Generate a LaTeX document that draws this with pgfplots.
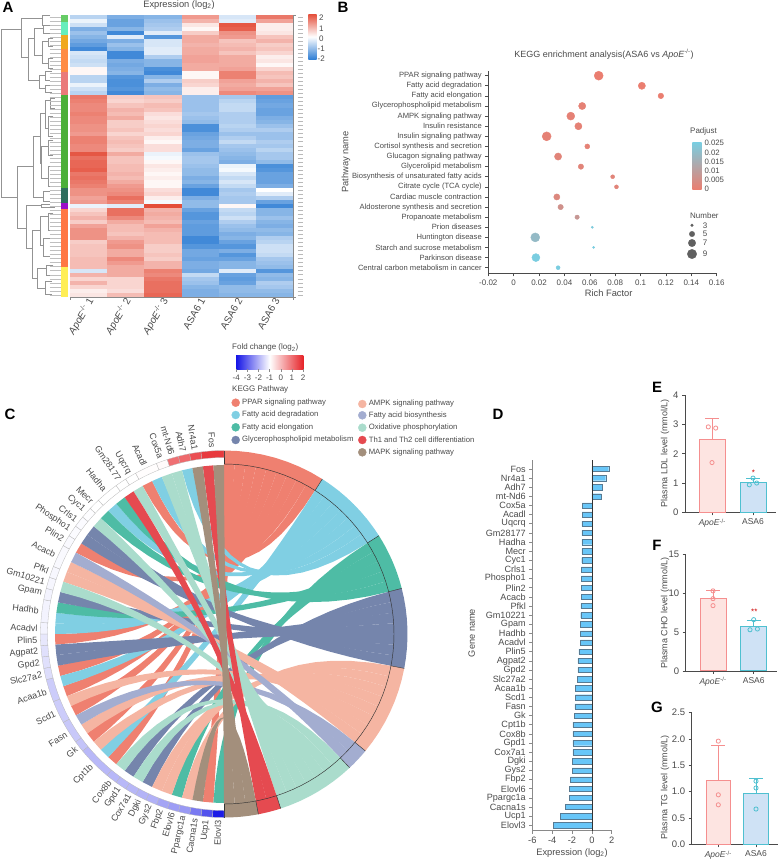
\documentclass[border=0pt]{standalone}
\usepackage{pgfplots}
\usepackage{pgfplotstable}
\usepackage{fontspec}
\setmainfont{Liberation Sans}
\pgfplotsset{compat=1.18}
\newcommand\fs[1]{\fontsize{#1}{#1}\selectfont}
\definecolor{tg}{HTML}{4A4A4A}
\definecolor{ax}{HTML}{8A8A8A}
\definecolor{hb}{RGB}{45,125,212}
\definecolor{hr}{RGB}{228,78,58}
\definecolor{fcb}{RGB}{20,20,230}
\definecolor{fcr}{RGB}{230,35,40}
\definecolor{cP}{RGB}{239,128,112}
\definecolor{cD}{RGB}{128,207,227}
\definecolor{cE}{RGB}{78,188,165}
\definecolor{cG}{RGB}{117,133,172}
\definecolor{cA}{RGB}{245,181,162}
\definecolor{cB}{RGB}{163,173,208}
\definecolor{cO}{RGB}{170,220,204}
\definecolor{cT}{RGB}{229,74,80}
\definecolor{cM}{RGB}{163,143,124}
\definecolor{padA}{RGB}{234,126,112}
\definecolor{padB}{RGB}{122,205,224}
\definecolor{sal}{RGB}{245,143,143}
\definecolor{salf}{RGB}{253,228,225}
\definecolor{cya}{RGB}{79,192,208}
\definecolor{cyaf}{RGB}{207,226,245}
\definecolor{barD}{RGB}{104,198,248}
\definecolor{barE}{RGB}{88,122,146}
\pgfplotsset{
  colormap={heat}{color=(hb) color=(white) color=(hr)},
  colormap={pad}{color=(padA) color=(padB)},
  panel/.style={scale only axis,anchor=south west,axis x line*=bottom,axis y line*=left,
    axis line style={line width=.9pt,color=tg,-},tick style={line width=.9pt,color=tg},
    tick align=outside,major tick length=3pt,clip=false,
    xticklabel style={font=\fs{8.5},text=tg},yticklabel style={font=\fs{9.5},text=tg},
    yticklabel style={/pgf/number format/assume math mode=true}},
  dendro/.style={color=gray!85,line width=.5pt,x filter/.expression={x/3},y filter/.expression={y/3}},
  errS/.style={error bars/.cd,y dir=plus,y explicit,error bar style={line width=1pt,color=sal},error mark options={rotate=90,mark size=7pt,line width=1pt,color=sal}},
  errC/.style={error bars/.cd,y dir=plus,y explicit,error bar style={line width=1pt,color=cya},error mark options={rotate=90,mark size=7pt,line width=1pt,color=cya}},
}
\pgfdeclareplotmark{cell}{\pgfpathrectangle{\pgfpoint{-18.75pt}{-2.15pt}}{\pgfpoint{37.5pt}{4.3pt}}\pgfusepathqfill}
\pgfdeclareplotmark{leaf}{\pgfpathmoveto{\pgfpoint{-5.5pt}{0pt}}\pgfpathlineto{\pgfpoint{5.5pt}{0pt}}\pgfusepathqstroke}
\pgfdeclareplotmark{rowl}{\pgfpathmoveto{\pgfpoint{-2.5pt}{0pt}}\pgfpathlineto{\pgfpoint{2.5pt}{0pt}}\pgfusepathqstroke}
% heat map, log2 expression, rows top to bottom, columns ApoE 1-3, ASA6 1-3
\pgfplotstableread{
c1 c2 c3 c4 c5 c6
-0.7 -1.3 -1.2 1.2 -0.4 1.6
-0.2 -1.5 -1.0 0.9 -0.3 1.1
-0.5 -1.5 -0.9 0.3 2.0 0.2
-1.3 -1.2 -0.8 0.1 1.9 0.2
-1.0 -1.9 -0.3 0.6 1.3 0.3
-1.2 -0.3 -1.7 1.0 1.2 0.7
-1.4 -1.3 -0.4 1.0 0.7 0.9
-1.6 -1.0 -0.4 0.9 0.8 0.6
-1.9 -1.2 -0.3 1.0 0.9 0.7
-0.4 -1.9 -0.3 1.0 0.7 0.5
-0.5 -1.9 -0.8 1.1 1.0 0.2
-0.6 -1.3 -1.2 1.1 1.0 0.3
-0.5 -1.4 -1.2 1.0 1.0 0.1
0.1 -1.3 -1.8 1.0 1.1 0.5
0.1 -1.2 -1.9 0.1 1.5 0.8
-0.7 -1.7 -1.2 0.1 1.5 0.7
-0.7 -1.8 -0.8 0.6 1.1 0.9
-0.2 -1.8 -1.3 0.5 1.0 0.7
-0.5 -1.7 -1.1 0.2 1.1 1.1
-0.7 -1.9 -1.2 0.2 1.4 1.3
1.6 0.6 0.7 -1.0 -0.9 -1.6
1.5 0.5 0.6 -1.0 -0.7 -1.5
1.4 0.7 0.8 -1.0 -0.6 -1.4
1.4 0.9 0.7 -1.0 -0.6 -1.5
1.5 0.8 0.4 -0.9 -0.8 -1.5
1.4 1.0 0.3 -1.0 -0.8 -1.3
1.4 0.6 0.4 -1.1 -0.8 -1.2
1.3 0.6 0.5 -1.8 -0.7 -1.0
1.3 0.7 0.4 -1.8 -0.8 -0.8
1.2 0.5 0.5 -1.5 -1.0 -1.0
1.5 0.7 0.2 -1.4 -0.8 -1.0
1.5 0.8 0.1 -1.3 -0.6 -0.8
1.4 0.7 0.4 -1.3 -0.9 -0.9
1.4 0.6 0.4 -1.5 -1.0 -0.7
2.0 1.0 -0.2 -1.0 -1.1 -0.9
1.7 0.7 -0.1 -0.9 -1.2 -0.9
1.8 0.7 0.1 -0.9 -1.3 -1.1
1.8 0.8 0.3 -1.0 -0.2 -1.8
1.9 0.8 0.2 -1.1 -0.1 -1.7
1.6 0.9 0.1 -1.1 -0.4 -1.5
1.7 0.8 0.2 -1.3 -0.6 -1.5
1.6 1.0 0.1 -1.2 -0.4 -1.5
1.5 1.2 0.1 -1.5 -0.6 -1.3
1.3 1.3 0.4 -1.9 -0.9 0.0
1.3 1.4 0.5 -1.9 -0.8 -0.3
1.1 1.7 0.2 -1.3 -0.9 -0.8
1.2 1.5 -0.1 -1.1 -0.9 -1.5
-0.2 -0.3 2.1 -1.1 0.1 -1.9
0.5 1.7 0.9 -1.5 -0.6 -1.2
0.7 1.7 1.0 -1.7 -0.7 -1.2
0.9 1.4 0.9 -1.7 -0.5 -1.0
0.6 1.0 0.8 -1.5 -0.8 -1.2
1.1 0.8 1.1 -1.6 -1.0 -1.3
1.3 0.8 0.9 -1.6 -1.1 -1.1
1.3 0.7 0.8 -1.6 -1.3 -1.2
1.3 0.9 0.8 -1.9 -1.2 -0.8
0.6 1.2 0.8 -1.9 -1.5 -0.7
0.7 1.3 0.6 -1.7 -1.7 -0.5
0.7 1.0 0.6 -1.4 -1.3 -0.5
0.7 1.0 0.7 -1.4 -1.7 -0.6
0.8 1.4 0.6 -1.5 -1.5 -0.9
0.8 1.2 0.9 -1.3 -1.2 -1.0
0.8 1.0 0.9 -1.3 -1.2 -1.1
-0.4 1.0 1.5 -1.4 -0.3 -1.7
0.9 1.0 1.4 -0.6 -1.5 -1.1
0.5 0.5 1.6 -0.9 -1.6 -1.2
0.9 0.5 1.7 -1.0 -1.5 -0.8
0.5 0.5 1.7 -1.2 -1.1 -0.9
0.2 0.4 1.7 -1.3 -1.1 -1.1
0.3 0.8 1.8 -1.3 -1.2 -1.2
}\heat
\pgfplotstableread{
name v
Elovl3 -3.9
Ucp1 -3.2
Cacna1s -2.7
Ppargc1a -2.3
Elovl6 -2.25
Fbp2 -2.15
Gys2 -2.0
Dgki -1.97
Cox7a1 -1.92
Gpd1 -1.9
Cox8b -1.9
Cpt1b -1.9
Gk -1.75
Fasn -1.7
Scd1 -1.65
Acaa1b -1.65
Slc27a2 -1.43
Gpd2 -1.4
Agpat2 -1.4
Plin5 -1.3
Acadvl -1.15
Hadhb -1.15
Gpam -1.15
Gm10221 -1.12
Pfkl -1.1
Acacb -1.08
Plin2 -1.08
Phospho1 -1.05
Crls1 -1.05
Cyc1 -1.02
Mecr -1.0
Hadha -1.0
Gm28177 -1.0
Uqcrq -1.0
Acadl -0.97
Cox5a -0.95
mt-Nd6 0.95
Adh7 1.05
Nr4a1 1.4
Fos 1.7
}\Dtab
% chord macros: all in reference pixels, centre (224,634)
\newcommand\addpt[2]{\pgfmathsetmacro\px{224+#1*sin(#2)}\pgfmathsetmacro\py{634-#1*cos(#2)}\xdef\pts{\pts(\px,\py)}}
\newcommand\bezpt[3]{\pgfmathsetmacro\px{224+(1-#3)^2*170*sin(#1)+(#3)^2*169*sin(#2)}\pgfmathsetmacro\py{634-(1-#3)^2*170*cos(#1)-(#3)^2*169*cos(#2)}\xdef\pts{\pts(\px,\py)}}
\def\tlist{0,.0625,.125,.1875,.25,.3125,.375,.4375,.5,.5625,.625,.6875,.75,.8125,.875,.9375,1}
\newcommand\ribbon[3]{%
 \pgfmathsetmacro\aA{#2}\pgfmathsetmacro\aB{#2+3.6}\pgfmathsetmacro\gB{180+3.6*#3}\pgfmathsetmacro\gA{\gB+3.6}%
 \gdef\pts{}%
 \foreach \t in \tlist {\bezpt{\aA}{\gA}{\t}}%
 \foreach \t in \tlist {\pgfmathsetmacro\tt{1-\t}\bezpt{\aB}{\gB}{\tt}}%
 \edef\tmp{\noexpand\addplot[fill=#1,draw=none] coordinates {\pts} -- cycle;}\tmp}
\newcommand\sector[5]{\gdef\pts{}%
 \foreach\k in {0,...,8}{\pgfmathsetmacro\th{#2+(#3-#2)*\k/8}\addpt{#5}{\th}}%
 \foreach\k in {8,...,0}{\pgfmathsetmacro\th{#2+(#3-#2)*\k/8}\addpt{#4}{\th}}%
 \edef\tmp{\noexpand\addplot[#1] coordinates {\pts} -- cycle;}\tmp}
\newcommand\radial[1]{\gdef\pts{}\addpt{170}{#1}\addpt{183.5}{#1}\edef\tmp{\noexpand\addplot[black!80,line width=.45pt] coordinates {\pts};}\tmp}
\newcount\gu
\newcommand\gene[3]{%
 \pgfmathsetmacro\tA{180+3.6*\the\gu}\global\advance\gu by #2\relax\pgfmathsetmacro\tB{180+3.6*\the\gu}%
 \ifdim#3pt<-1pt \pgfmathsetmacro\pct{(-1-#3)/3*100}\edef\cc{fcb!\pct!white}\else\pgfmathsetmacro\pct{(#3+1)/3*100}\edef\cc{fcr!\pct!white}\fi
 \sector{fill=\cc,draw=gray!55,line width=.3pt}{\tA}{\tB}{176.5}{183.5}%
 \pgfmathsetmacro\tM{(\tA+\tB)/2}\pgfmathsetmacro\rot{270-\tM}\pgfmathsetmacro\lx{224+186.5*sin(\tM)}\pgfmathsetmacro\ly{634-186.5*cos(\tM)}%
 \edef\tmp{\noexpand\node[anchor=east,rotate=\rot,font=\noexpand\fs{9},text=tg,inner sep=0pt] at (axis cs:\lx,\ly) {#1};}\tmp}
\newcommand\bx[5]{\addplot[fill={rgb,255:#1},draw=none] coordinates {(#2,#3)(#4,#3)(#4,#5)(#2,#5)} -- cycle;}
\newcommand\U[5]{\addplot[dendro] coordinates {(#3,#2)(#1,#2)(#1,#4)(#5,#4)};}
\newcommand\lgd[4]{\addplot[only marks,mark=*,mark size=4pt,color=#1] coordinates {(#2,#3)};\node[anchor=west,font=\fs{7.7},text=tg,inner sep=0pt] at (#2+6.3,#3) {#4};}
\newcommand\txt[4][]{\node[font=\fs{#2},text=tg,inner sep=0pt,#1] at (#3) {#4};}
\newcommand\apo{\textit{ApoE}\textsuperscript{-/-}}
\begin{document}
\begin{tikzpicture}[x=1pt,y=1pt]
\path[use as bounding box] (0,0) rectangle (782,863);
%% ---------- canvas axis, one data unit = one reference pixel
\begin{axis}[at={(0pt,0pt)},anchor=south west,scale only axis,width=782,height=863,xmin=0,xmax=782,ymin=0,ymax=863,y dir=reverse,hide axis,clip=false]
% panel letters
\node[font=\bfseries\fs{15},text=black] at (8,7) {A};
\node[font=\bfseries\fs{15},text=black] at (343,7) {B};
\node[font=\bfseries\fs{15},text=black] at (10,414) {C};
\node[font=\bfseries\fs{15},text=black] at (498,414) {D};
\node[font=\bfseries\fs{15},text=black] at (657,387) {E};
\node[font=\bfseries\fs{15},text=black] at (657,545) {F};
\node[font=\bfseries\fs{15},text=black] at (657,707) {G};
%% A: side colours
\bx{red,102;green,204;blue,102}{60.7}{15}{68}{22.3}
\bx{red,102;green,238;blue,187}{60.7}{22.3}{68}{35}
\bx{red,240;green,168;blue,32}{60.7}{35}{68}{49.3}
\bx{red,255;green,140;blue,68}{60.7}{49.3}{68}{71.7}
\bx{red,234;green,122;blue,122}{60.7}{71.7}{68}{95}
\bx{red,76;green,175;blue,58}{60.7}{95}{68}{188.3}
\bx{red,46;green,110;blue,94}{60.7}{188.3}{68}{203.3}
\bx{red,154;green,16;blue,200}{60.7}{203.3}{68}{209.3}
\bx{red,255;green,119;blue,68}{60.7}{209.3}{68}{267.3}
\bx{red,255;green,238;blue,85}{60.7}{267.3}{68}{297}
%% A: dendrogram
\U{3}{88}{65}{593}{52}
\U{65}{55}{128}{172}{85}
\U{128}{45}{150}{75}{145}
\U{85}{115}{103}{240}{118}
\U{103}{85}{130}{165}{127}
\U{130}{75}{150}{100}{150}
\U{127}{125}{145}{190}{145}
\U{118}{225}{135}{265}{135}
\U{135}{215}{155}{240}{150}
\U{135}{255}{150}{278}{155}
\U{145}{115}{160}{140}{160}
\U{145}{175}{160}{205}{160}
\U{52}{500}{100}{685}{80}
\U{100}{410}{122}{592}{130}
\U{122}{340}{135}{490}{125}
\U{135}{300}{150}{385}{145}
\U{125}{440}{145}{535}{145}
\U{145}{420}{160}{465}{160}
\U{145}{500}{160}{560}{160}
\U{145}{350}{160}{410}{160}
\U{150}{295}{165}{325}{165}
\U{130}{575}{150}{605}{150}
\U{80}{617}{125}{745}{97}
\U{125}{612}{150}{622}{165}
\U{97}{690}{120}{835}{113}
\U{120}{650}{145}{735}{130}
\U{145}{640}{160}{690}{160}
\U{130}{715}{150}{770}{150}
\U{113}{805}{140}{865}{135}
\U{140}{795}{160}{825}{160}
\U{135}{845}{155}{882}{155}
\addplot[only marks,mark=leaf,color=gray!50,line width=.8pt] table[x expr=55.2,y expr={17+4.03*\coordindex},y index=0] {\heat};
\addplot[only marks,mark=rowl,color=gray!55,line width=.9pt] table[x expr=300,y expr={17+4.03*\coordindex},y index=0] {\heat};
\addplot[ax,line width=.6pt] coordinates {(70,297.5)(70,300)};
\addplot[ax,line width=.6pt] coordinates {(293.3,297.5)(293.3,300)};
%% A: title and colour bar
\txt{9.3}{179,5}{Expression (log\textsubscript{2})}
\shade[bottom color=hb,top color=hr,middle color=white] (axis cs:308.3,14) rectangle (axis cs:316.7,59.5);
\txt[anchor=west]{8}{319,17.3}{2}
\txt[anchor=west]{8}{319,28.3}{1}
\txt[anchor=west]{8}{319,38.3}{0}
\txt[anchor=west]{8}{317.5,48.3}{-1}
\txt[anchor=west]{8}{317.5,58.3}{-2}
%% B: texts and legends
\txt{9}{604,54}{KEGG enrichment analysis(ASA6 vs \apo)}
\txt{9.3}{608.7,292.7}{Rich Factor}
\txt[rotate=90]{9.3}{346,162}{Pathway name}
\txt[anchor=west]{8}{690,131}{Padjust}
\shade[bottom color=padA,top color=padB] (axis cs:692.3,142.7) rectangle (axis cs:701.7,189.3);
\txt[anchor=west]{7.8}{704.3,143.3}{0.025}
\txt[anchor=west]{7.8}{704.3,152.5}{0.02}
\txt[anchor=west]{7.8}{704.3,161.6}{0.015}
\txt[anchor=west]{7.8}{704.3,170.7}{0.01}
\txt[anchor=west]{7.8}{704.3,179.9}{0.005}
\txt[anchor=west]{7.8}{704.3,189}{0}
\txt[anchor=west]{8}{690,215.7}{Number}
\addplot[only marks,mark=*,mark size=1.3pt,color=gray!75!black] coordinates {(692,225.3)};
\addplot[only marks,mark=*,mark size=2.7pt,color=gray!75!black] coordinates {(692,234)};
\addplot[only marks,mark=*,mark size=3.7pt,color=gray!75!black] coordinates {(692,243)};
\addplot[only marks,mark=*,mark size=4.7pt,color=gray!75!black] coordinates {(692,254)};
\txt[anchor=west]{8}{702.7,225.3}{3}
\txt[anchor=west]{8}{702.7,234}{5}
\txt[anchor=west]{8}{702.7,243}{7}
\txt[anchor=west]{8}{702.7,254}{9}
%% C: legends
\txt[anchor=west]{8}{232,347.7}{Fold change (log\textsubscript{2})}
\shade[left color=fcb,right color=fcr,middle color=white] (axis cs:236,355.7) rectangle (axis cs:303.3,369);
\addplot[ax,line width=.5pt] coordinates {(236.3,369)(236.3,371.5)};
\addplot[ax,line width=.5pt] coordinates {(247.4,369)(247.4,371.5)};
\addplot[ax,line width=.5pt] coordinates {(258.5,369)(258.5,371.5)};
\addplot[ax,line width=.5pt] coordinates {(269.6,369)(269.6,371.5)};
\addplot[ax,line width=.5pt] coordinates {(280.8,369)(280.8,371.5)};
\addplot[ax,line width=.5pt] coordinates {(291.9,369)(291.9,371.5)};
\addplot[ax,line width=.5pt] coordinates {(303,369)(303,371.5)};
\txt{8}{236.3,377.7}{-4}
\txt{8}{247.4,377.7}{-3}
\txt{8}{258.5,377.7}{-2}
\txt{8}{269.6,377.7}{-1}
\txt{8}{280.8,377.7}{0}
\txt{8}{291.9,377.7}{1}
\txt{8}{303,377.7}{2}
\txt[anchor=west]{8}{232,389}{KEGG Pathway}
\lgd{cP}{235.7}{402.7}{PPAR signaling pathway}
\lgd{cD}{235.7}{415}{Fatty acid degradation}
\lgd{cE}{235.7}{427.3}{Fatty acid elongation}
\lgd{cG}{235.7}{440}{Glycerophospholipid metabolism}
\lgd{cA}{362.3}{404}{AMPK signaling pathway}
\lgd{cB}{362.3}{415.3}{Fatty acid biosynthesis}
\lgd{cO}{362.3}{427.7}{Oxidative phosphorylation}
\lgd{cT}{362.3}{440}{Th1 and Th2 cell differentiation}
\lgd{cM}{362.3}{452.3}{MAPK signaling pathway}
%% C: pathway sectors
\sector{fill=cP,draw=none}{0}{32.4}{169.5}{183.5}
\sector{fill=cD,draw=none}{32.4}{57.6}{169.5}{183.5}
\sector{fill=cE,draw=none}{57.6}{75.6}{169.5}{183.5}
\sector{fill=cG,draw=none}{75.6}{100.8}{169.5}{183.5}
\sector{fill=cA,draw=none}{100.8}{129.6}{169.5}{183.5}
\sector{fill=cB,draw=none}{129.6}{136.8}{169.5}{183.5}
\sector{fill=cO,draw=none}{136.8}{162}{169.5}{183.5}
\sector{fill=cT,draw=none}{162}{169.2}{169.5}{183.5}
\sector{fill=cM,draw=none}{169.2}{180}{169.5}{183.5}
%% C: ribbons, colour / start on the pathway sector / gene slot
\ribbon{cP}{0}{1}\ribbon{cP}{3.6}{11}\ribbon{cP}{7.2}{14}\ribbon{cP}{10.8}{17}\ribbon{cP}{14.4}{19}\ribbon{cP}{18}{21}\ribbon{cP}{21.6}{24}\ribbon{cP}{25.2}{33}\ribbon{cP}{28.8}{42}
\ribbon{cD}{32.4}{12}\ribbon{cD}{36}{20}\ribbon{cD}{39.6}{25}\ribbon{cD}{43.2}{26}\ribbon{cD}{46.8}{38}\ribbon{cD}{50.4}{43}\ribbon{cD}{54}{46}
\ribbon{cE}{57.6}{0}\ribbon{cE}{61.2}{4}\ribbon{cE}{64.8}{27}\ribbon{cE}{68.4}{37}\ribbon{cE}{72}{39}
\ribbon{cG}{75.6}{7}\ribbon{cG}{79.2}{9}\ribbon{cG}{82.8}{22}\ribbon{cG}{86.4}{23}\ribbon{cG}{90}{28}\ribbon{cG}{93.6}{34}\ribbon{cG}{97.2}{35}
\ribbon{cA}{100.8}{3}\ribbon{cA}{104.4}{5}\ribbon{cA}{108}{6}\ribbon{cA}{111.6}{13}\ribbon{cA}{115.2}{15}\ribbon{cA}{118.8}{18}\ribbon{cA}{122.4}{30}\ribbon{cA}{126}{31}
\ribbon{cB}{129.6}{16}\ribbon{cB}{133.2}{32}
\ribbon{cO}{136.8}{8}\ribbon{cO}{140.4}{10}\ribbon{cO}{144}{29}\ribbon{cO}{147.6}{36}\ribbon{cO}{151.2}{41}\ribbon{cO}{154.8}{44}\ribbon{cO}{158.4}{45}
\ribbon{cT}{162}{40}\ribbon{cT}{165.6}{48}
\ribbon{cM}{169.2}{2}\ribbon{cM}{172.8}{47}\ribbon{cM}{176.4}{49}
%% C: sector lines
\gdef\pts{}\foreach\k in {0,3,...,180}{\addpt{170}{\k}}
\edef\tmp{\noexpand\addplot[black!80,line width=.45pt] coordinates {\pts};}\tmp
\radial{0}\radial{32.4}\radial{57.6}\radial{75.6}\radial{100.8}\radial{129.6}\radial{136.8}\radial{162}\radial{169.2}\radial{180}
%% C: gene ring, name / slots / log2 fold change
\gene{Elovl3}{1}{-3.9}\gene{Ucp1}{1}{-3.2}\gene{Cacna1s}{1}{-2.7}\gene{Ppargc1a}{1}{-2.3}\gene{Elovl6}{1}{-2.25}
\gene{Fbp2}{1}{-2.15}\gene{Gys2}{1}{-2.0}\gene{Dgki}{1}{-1.97}\gene{Cox7a1}{1}{-1.92}\gene{Gpd1}{1}{-1.9}
\gene{Cox8b}{1}{-1.9}\gene{Cpt1b}{3}{-1.9}\gene{Gk}{1}{-1.75}\gene{Fasn}{2}{-1.7}\gene{Scd1}{2}{-1.65}
\gene{Acaa1b}{2}{-1.65}\gene{Slc27a2}{1}{-1.43}\gene{Gpd2}{1}{-1.4}\gene{Agpat2}{1}{-1.4}\gene{Plin5}{1}{-1.3}
\gene{Acadvl}{1}{-1.15}\gene{Hadhb}{2}{-1.15}\gene{Gpam}{1}{-1.15}\gene{Gm10221}{1}{-1.12}\gene{Pfkl}{1}{-1.1}
\gene{Acacb}{2}{-1.08}\gene{Plin2}{1}{-1.08}\gene{Phospho1}{1}{-1.05}\gene{Crls1}{1}{-1.05}\gene{Cyc1}{1}{-1.02}
\gene{Mecr}{1}{-1.0}\gene{Hadha}{2}{-1.0}\gene{Gm28177}{1}{-1.0}\gene{Uqcrq}{1}{-1.0}\gene{Acadl}{2}{-0.97}
\gene{Cox5a}{1}{-0.95}\gene{mt-Nd6}{1}{0.95}\gene{Adh7}{1}{1.05}\gene{Nr4a1}{1}{1.4}\gene{Fos}{2}{1.7}
%% D, E, F, G side labels
\txt[rotate=90]{9.2}{471.7,633}{Gene name}
\txt[rotate=90]{9}{665,453}{Plasma LDL level (mmol/L)}
\txt[rotate=90]{9}{665,613}{Plasma CHO level (mmol/L)}
\txt[rotate=90]{9}{665,787}{Plasma TG level (mmol/L)}
\end{axis}
%% ---------- A heat map
\begin{axis}[at={(70pt,566pt)},anchor=south west,scale only axis,width=223.3,height=282,clip=false,
  xmin=-.5,xmax=5.5,ymin=-.5,ymax=69.5,colormap name=heat,point meta min=-2.1,point meta max=2.1,
  axis x line*=bottom,axis y line*=right,axis line style={color=ax,line width=.6pt,-},
  xtick={0,...,5},xticklabels={\apo{} 1,\apo{} 2,\apo{} 3,ASA6 1,ASA6 2,ASA6 3},
  xticklabel style={rotate=60,anchor=east,font=\fs{10},text=tg,xshift=5pt,yshift=-2pt},
  major tick length=2.5pt,tick align=outside,tick style={color=ax},
  ytick={-.5,69.5},yticklabels={},x tick style={draw=none}]
\addplot[scatter,only marks,mark=cell,scatter src=explicit,scatter/use mapped color={fill=mapped color,draw=none}] table[x expr=0,y expr={69-\coordindex},meta=c1] {\heat};
\addplot[scatter,only marks,mark=cell,scatter src=explicit,scatter/use mapped color={fill=mapped color,draw=none}] table[x expr=1,y expr={69-\coordindex},meta=c2] {\heat};
\addplot[scatter,only marks,mark=cell,scatter src=explicit,scatter/use mapped color={fill=mapped color,draw=none}] table[x expr=2,y expr={69-\coordindex},meta=c3] {\heat};
\addplot[scatter,only marks,mark=cell,scatter src=explicit,scatter/use mapped color={fill=mapped color,draw=none}] table[x expr=3,y expr={69-\coordindex},meta=c4] {\heat};
\addplot[scatter,only marks,mark=cell,scatter src=explicit,scatter/use mapped color={fill=mapped color,draw=none}] table[x expr=4,y expr={69-\coordindex},meta=c5] {\heat};
\addplot[scatter,only marks,mark=cell,scatter src=explicit,scatter/use mapped color={fill=mapped color,draw=none}] table[x expr=5,y expr={69-\coordindex},meta=c6] {\heat};
\end{axis}
%% ---------- B dot plot
\begin{axis}[at={(488.3pt,589.7pt)},anchor=south west,scale only axis,width=228.4,height=202.3,clip=false,
  xmin=-.02,xmax=.16,ymin=.446,ymax=20.465,colormap name=pad,point meta min=0,point meta max=.025,
  axis x line*=bottom,axis y line*=left,axis line style={color=tg,line width=.6pt,-},
  tick align=outside,major tick length=3pt,tick style={color=tg,line width=.6pt},scaled x ticks=false,
  xtick={-.02,0,.02,.04,.06,.08,.1,.12,.14,.16},
  xticklabels={-0.02,0,0.02,0.04,0.06,0.08,0.1,0.12,0.14,0.16},
  xticklabel style={font=\fs{8},text=tg},
  ytick={1,...,20},
  yticklabels={Central carbon metabolism in cancer,Parkinson disease,Starch and sucrose metabolism,Huntington disease,Prion diseases,Propanoate metabolism,Aldosterone synthesis and secretion,Cardiac muscle contraction,Citrate cycle (TCA cycle),Biosynthesis of unsaturated fatty acids,Glycerolipid metabolism,Glucagon signaling pathway,Cortisol synthesis and secretion,Insulin signaling pathway,Insulin resistance,AMPK signaling pathway,Glycerophospholipid metabolism,Fatty acid elongation,Fatty acid degradation,PPAR signaling pathway},
  yticklabel style={font=\fs{7.6},text=tg}]
\addplot[scatter,only marks,mark=*,scatter src=explicit,
  visualization depends on={\thisrow{r}\as\rr},
  scatter/use mapped color={draw=mapped color,fill=mapped color},
  scatter/@pre marker code/.append style={/tikz/mark size=\rr}]
 table[x=x,y=y,meta=p] {
x y r p
0.067 20 4.5 0
0.101 19 3.6 0
0.116 18 2.8 0
0.054 17 3.6 0.001
0.045 16 4.0 0.001
0.051 15 3.6 0.001
0.026 14 4.5 0.001
0.058 13 2.5 0.001
0.035 12 3.6 0.002
0.053 11 2.7 0.002
0.078 10 2.0 0.002
0.081 9 2.0 0.002
0.034 8 3.1 0.003
0.037 7 2.7 0.006
0.050 6 2.2 0.008
0.062 5 1.1 0.024
0.017 4 4.5 0.019
0.063 3 1.1 0.025
0.0175 2 4.0 0.025
0.035 1 2.0 0.025
};
\end{axis}
%% ---------- D bars
\begin{axis}[at={(532.3pt,32.3pt)},anchor=south west,scale only axis,width=79.4,height=370.7,clip=false,
  xmin=-6,xmax=2,ymin=-.59,ymax=39.98,
  axis x line*=bottom,axis y line*=left,axis line style={color=ax,line width=.7pt,-},
  tick align=outside,major tick length=3pt,tick style={color=ax,line width=.6pt},
  xtick={-6,-4,-2,0,2},xticklabels={-6,-4,-2,0,2},xticklabel style={font=\fs{9.3},text=tg},
  ytick={0,...,39},yticklabels from table={\Dtab}{name},yticklabel style={font=\fs{9.1},text=tg},
  xlabel={Expression (log\textsubscript{2})},xlabel style={font=\fs{9.3},text=tg,yshift=2pt}]
\addplot[xbar,bar width=5.3pt,bar shift=0pt,fill=barD,draw=barE,line width=.4pt] table[x=v,y expr=\coordindex] {\Dtab};
\addplot[black!80,line width=.6pt] coordinates {(0,-.59)(0,39.98)};
\end{axis}
%% ---------- E
\begin{axis}[panel,at={(685pt,350.7pt)},width=91,height=117,xmin=685,xmax=776,ymin=0,ymax=4,
  xtick={712.3,753},xticklabels={\apo,ASA6},ytick={0,1,2,3,4}]
\addplot[ybar,bar width=26pt,bar shift=0pt,fill=salf,draw=sal,line width=1pt,errS] coordinates {(712.3,2.48) +- (0,.72)};
\addplot[ybar,bar width=26pt,bar shift=0pt,fill=cyaf,draw=cya,line width=1pt,errC] coordinates {(753,1.02) +- (0,.14)};
\addplot[only marks,mark=o,mark size=2.1pt,color=sal,line width=.8pt] coordinates {(708.3,2.92)(715.7,2.88)(712,1.7)};
\addplot[only marks,mark=o,mark size=2.1pt,color=cya,line width=.8pt] coordinates {(753,1.17)(749.3,.94)(756.7,1.0)};
\node[font=\fs{8},text=red!80!black,inner sep=0pt] at (axis cs:753.3,1.36) {*};
\end{axis}
%% ---------- F
\begin{axis}[panel,at={(685.7pt,192pt)},width=91,height=116.7,xmin=685.7,xmax=776.7,ymin=0,ymax=15,
  xtick={713,753.7},xticklabels={\apo,ASA6},ytick={0,5,10,15}]
\addplot[ybar,bar width=26pt,bar shift=0pt,fill=salf,draw=sal,line width=1pt,errS] coordinates {(713,9.3) +- (0,1.05)};
\addplot[ybar,bar width=26pt,bar shift=0pt,fill=cyaf,draw=cya,line width=1pt,errC] coordinates {(753.7,5.7) +- (0,.85)};
\addplot[only marks,mark=o,mark size=2.1pt,color=sal,line width=.8pt] coordinates {(713,10.3)(713,9.3)(713,8.4)};
\addplot[only marks,mark=o,mark size=2.1pt,color=cya,line width=.8pt] coordinates {(753.7,6.6)(750,5.3)(757.4,5.4)};
\node[font=\fs{8},text=red!80!black,inner sep=0pt] at (axis cs:754.3,7.6) {**};
\end{axis}
%% ---------- G
\begin{axis}[panel,at={(691.7pt,18.7pt)},width=86.3,height=131.6,xmin=691.7,xmax=778,ymin=0,ymax=2.5,
  xtick={718.3,756},xticklabels={\apo,ASA6},ytick={0,.5,1,1.5,2,2.5},
  yticklabels={0.0,0.5,1.0,1.5,2.0,2.5}]
\addplot[ybar,bar width=24.3pt,bar shift=0pt,fill=salf,draw=sal,line width=1pt,errS] coordinates {(718.3,1.21) +- (0,.66)};
\addplot[ybar,bar width=24.3pt,bar shift=0pt,fill=cyaf,draw=cya,line width=1pt,errC] coordinates {(756,.97) +- (0,.28)};
\addplot[only marks,mark=o,mark size=2.1pt,color=sal,line width=.8pt] coordinates {(718.3,1.96)(718.3,.94)(718.3,.75)};
\addplot[only marks,mark=o,mark size=2.1pt,color=cya,line width=.8pt] coordinates {(756,1.2)(756,1.07)(756,.67)};
\end{axis}
\end{tikzpicture}
\end{document}
